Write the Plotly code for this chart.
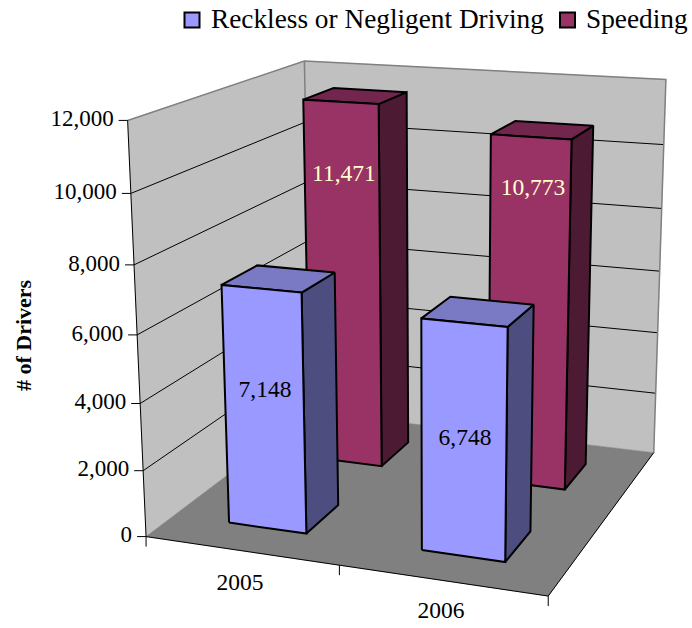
import numpy as np
import plotly.graph_objects as go

# ---- data ----
categories = ["2005", "2006"]
series_names = ["Reckless or Negligent Driving", "Speeding"]
reckless = [7148, 6748]
speeding = [11471, 10773]
z_ticks = [0, 2000, 4000, 6000, 8000, 10000, 12000]
z_max = 12000

FONT = "Liberation Serif"
FRONT = {"r": "#9999FF", "s": "#993366"}
SIDE = {"r": "#4D4D80", "s": "#4D1A33"}
TOP = {"r": "#7A7AC4", "s": "#73264D"}

# ---- oblique view: calibration of world (x, depth, z/zmax) -> page pixels ----
_world = [(0, 0, 0), (2, 0, 0), (2, 1, 0), (0, 1, 0), (0, 0, 1), (0, 1, 1), (2, 1, 1)]
_page = [(145, 537), (549, 595), (653, 454), (312, 411), (128, 121), (304, 61), (666, 79)]
_A = []
for (X, Y, Z), (u, v) in zip(_world, _page):
    _A.append([X, Y, Z, 1, 0, 0, 0, 0, -u * X, -u * Y, -u * Z, -u])
    _A.append([0, 0, 0, 0, X, Y, Z, 1, -v * X, -v * Y, -v * Z, -v])
_M = np.linalg.svd(np.array(_A, float))[2][-1].reshape(3, 4)


def P(x, d, value):
    h = _M @ np.array([x, d, value / z_max, 1.0])
    return float(h[0] / h[2]), float(h[1] / h[2])


fig = go.Figure()


def poly(points, fill=None, line="black", width=1.0):
    xs = [p[0] for p in points]
    ys = [p[1] for p in points]
    if fill:
        xs.append(xs[0])
        ys.append(ys[0])
    fig.add_trace(go.Scatter(
        x=xs, y=ys, mode="lines", fill="toself" if fill else None,
        fillcolor=fill, line=dict(color=line, width=width),
        hoverinfo="skip", showlegend=False))


# walls and floor
poly([P(0, 0, 0), P(0, 1, 0), P(0, 1, z_max), P(0, 0, z_max)], "#C0C0C0", "#C0C0C0", 0.5)
poly([P(0, 1, 0), P(2, 1, 0), P(2, 1, z_max), P(0, 1, z_max)], "#C0C0C0", "#C0C0C0", 0.5)
poly([P(0, 0, 0), P(2, 0, 0), P(2, 1, 0), P(0, 1, 0)], "#808080", "#808080", 0.5)

# gridlines
for t in z_ticks[1:-1]:
    poly([P(0, 0, t), P(0, 1, t), P(2, 1, t)], None, "black", 1)

# wall outlines
poly([P(0, 0, z_max), P(0, 1, z_max), P(2, 1, z_max), P(2, 1, 0)], None, "#808080", 1.5)
poly([P(0, 1, z_max), P(0, 1, 0)], None, "#808080", 1.5)
poly([P(0, 0, z_max), P(0, 0, 0), P(2, 0, 0), P(2, 1, 0)], None, "black", 1)

# axis ticks
for t in z_ticks:
    x0, y0 = P(0, 0, t)
    poly([(x0 - 9, y0), (x0, y0)], None, "black", 1)
for c in range(len(categories) + 1):
    x0, y0 = P(c, 0, 0)
    poly([(x0, y0), (x0, y0 + 10)], None, "black", 1)


def bar(cat, d0, d1, value, key):
    x0, x1 = cat + 0.295, cat + 0.705
    poly([P(x1, d0, 0), P(x1, d1, 0), P(x1, d1, value), P(x1, d0, value)], SIDE[key], "black", 2)
    poly([P(x0, d0, value), P(x1, d0, value), P(x1, d1, value), P(x0, d1, value)], TOP[key], "black", 2)
    poly([P(x0, d0, 0), P(x1, d0, 0), P(x1, d0, value), P(x0, d0, value)], FRONT[key], "black", 2)


for c, v in enumerate(speeding):
    bar(c, 0.65, 0.85, v, "s")
for c, v in enumerate(reckless):
    bar(c, 0.15, 0.35, v, "r")


def text(x, y, s, size, color="black", pos="middle center"):
    fig.add_trace(go.Scatter(
        x=[x], y=[y], mode="text", text=[s], textposition=pos,
        textfont=dict(family=FONT, size=size, color=color),
        hoverinfo="skip", showlegend=False))


# tick labels
for t in z_ticks:
    x0, y0 = P(0, 0, t)
    text(x0 - 14, y0, f"{t:,}", 23, pos="middle left")
for c, name in enumerate(categories):
    text([240, 441][c], [584, 612][c], name, 23.5)

# data labels
for s, xy, col in [
    (reckless[0], (265, 391), "black"), (reckless[1], (465, 439), "black"),
    (speeding[0], (344, 175), "#FFFFCC"), (speeding[1], (533, 189), "#FFFFCC"),
]:
    text(xy[0], xy[1], f"{s:,}", 23.5, col)

# legend keys
for name, key, kx, tx in zip(series_names, ["r", "s"], [192, 567.5], [211, 586]):
    fig.add_trace(go.Scatter(
        x=[kx], y=[20], mode="markers", name=name, hoverinfo="skip", showlegend=False,
        marker=dict(symbol="square", size=15, color=FRONT[key], line=dict(color="black", width=2))))
    text(tx, 21, name, 27.3, pos="middle right")

fig.update_layout(
    width=692, height=628, margin=dict(l=0, r=0, t=0, b=0),
    paper_bgcolor="white", plot_bgcolor="white",
    xaxis=dict(range=[0, 692], visible=False, fixedrange=True),
    yaxis=dict(range=[628, 0], visible=False, fixedrange=True),
    showlegend=False,
    annotations=[dict(text="<b># of Drivers</b>", x=23, y=335, xref="x", yref="y",
                      textangle=-90, showarrow=False,
                      font=dict(family=FONT, size=22, color="black"))],
)
fig.write_html("out.html", config={"displayModeBar": False},
               post_script="document.body.style.margin='0';document.body.style.overflow='hidden';")
